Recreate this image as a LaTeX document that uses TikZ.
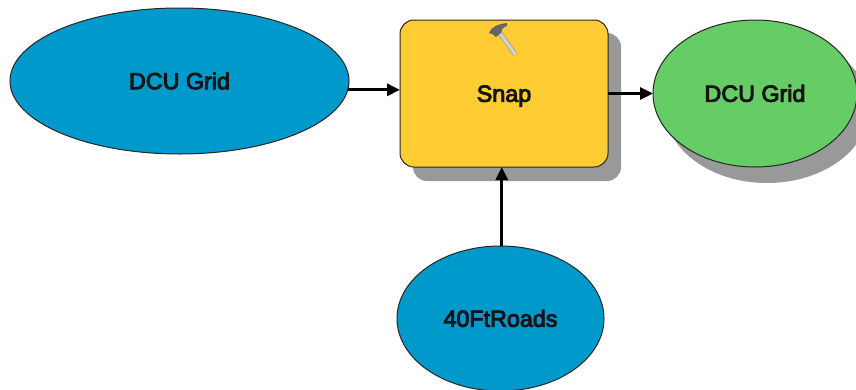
\documentclass[tikz,border=0pt]{standalone}
\usepackage{fontspec}
\setmainfont{Liberation Sans}
\newfontfamily\labfont[FakeBold=4]{Liberation Sans}
\usetikzlibrary{arrows.meta,shapes.geometric}
\definecolor{blueell}{HTML}{0099CC}
\definecolor{greenell}{HTML}{66CC66}
\definecolor{yellowbox}{HTML}{FFCC33}
\definecolor{shadowgray}{HTML}{999999}
\definecolor{handlecol}{HTML}{D8D4BE}
\tikzset{
  x=1pt,y=-1pt,
  outl/.style={draw=black!85,line width=1pt,inner sep=0pt,outer sep=0pt,font=\labfont\fontsize{23.3}{25}\selectfont,text=black!92,text height=16.5pt,text depth=0pt},
  ell/.style={outl,ellipse},
  conn/.style={line width=3pt,black,-{Triangle[length=13pt,width=12pt]}},
}
\begin{document}
\begin{tikzpicture}
\useasboundingbox (0,0) rectangle (856,389);
\begin{scope}
\clip (0,0) rectangle (856,389);
\fill[shadowgray,rounded corners=14pt] (413,33) rectangle (621,181);
\fill[shadowgray] (767,108) ellipse [x radius=102,y radius=75];
\node[ell,fill=blueell,minimum width=339pt,minimum height=146pt] (dcuin) at (179.5,81) {DCU Grid};
\node[ell,fill=greenell,minimum width=204pt,minimum height=147pt] (dcuout) at (755,93.5) {DCU Grid};
\node[ell,fill=blueell,minimum width=207pt,minimum height=145pt] (roads) at (500.5,318.5) {40FtRoads};
\node[outl,fill=yellowbox,rounded corners=14pt,minimum width=208pt,minimum height=147pt] (snap) at (504,93.5) {Snap};
% hammer
\draw[line width=5pt,gray!70] (499,32) -- (515,54);
\draw[line width=3pt,handlecol] (499,32) -- (515,54);
\fill[black!60] (489,33) .. controls (491,27) and (498,24) .. (507,23) -- (507,26)
  .. controls (503,27) and (501,30) .. (501,33) -- (496,37) .. controls (494,35) and (491,33) .. (489,33) -- cycle;
\draw[conn] (dcuin.-3.6) -- (dcuin.-3.6 -| snap.west);
\draw[conn] (snap.east) -- (dcuout.west);
\draw[conn] (roads.89) -- (roads.89 |- snap.south);
\end{scope}
\end{tikzpicture}
\end{document}
